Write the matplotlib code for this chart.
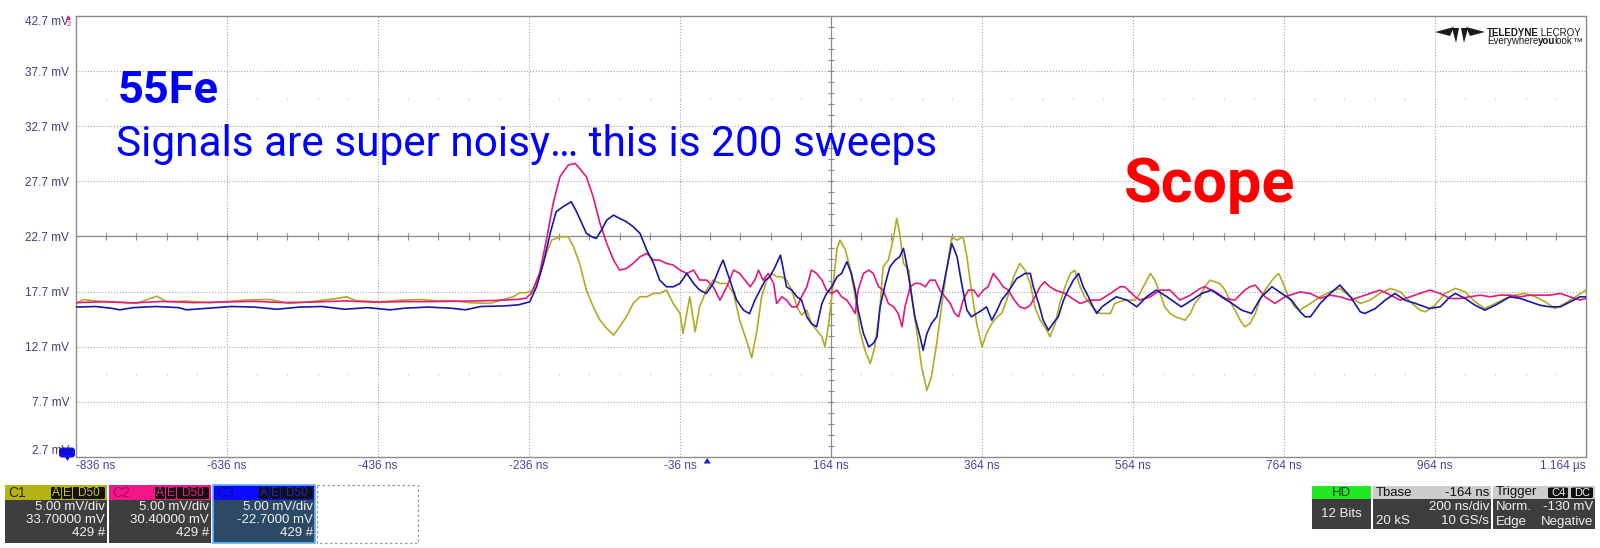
import numpy as np
import matplotlib
matplotlib.use("Agg")
import matplotlib.pyplot as plt
from matplotlib.patches import Rectangle, FancyBboxPatch, Polygon
from matplotlib.collections import LineCollection

# ---------------------------------------------------------------------------
# Averaged 55Fe pulses (200 sweeps), time in ns, amplitude in mV
# ---------------------------------------------------------------------------
t_c1 = [-836, -826, -809, -787, -756, -729, -716, -690, -659, -637,
        -614, -579, -553, -526, -491, -478, -464, -433, -403, -380,
        -358, -336, -314, -288, -270, -257, -248, -240, -230, -222,
        -213, -206, -200, -193, -184, -177, -169, -160, -151, -142,
        -133, -124, -116, -107, -98, -89, -80, -71, -63, -54,
        -45, -36, -32, -23, -16, -10, -1, 8, 17, 26,
        35, 43, 52, 59, 66, 72, 79, 85, 92, 99,
        105, 112, 119, 125, 132, 138, 145, 152, 156, 161,
        167, 172, 176, 183, 189, 196, 202, 209, 216, 222,
        229, 233, 240, 247, 251, 255, 260, 267, 271, 278,
        284, 291, 297, 304, 311, 317, 324, 331, 339, 344,
        350, 357, 364, 370, 377, 384, 390, 397, 406, 414,
        421, 428, 434, 441, 450, 454, 461, 467, 474, 481,
        487, 494, 500, 507, 514, 520, 534, 540, 553, 567,
        573, 580, 587, 593, 600, 606, 613, 620, 633, 640,
        646, 653, 659, 666, 679, 686, 692, 699, 706, 712,
        719, 726, 732, 739, 745, 752, 757, 763, 770, 778,
        785, 799, 812, 825, 838, 852, 865, 878, 891, 905,
        918, 931, 944, 951, 964, 977, 991, 1004, 1017, 1030,
        1044, 1057, 1070, 1083, 1097, 1110, 1123, 1136, 1150, 1164]
v_c1 = [16.63, 16.99, 16.84, 16.78, 16.63, 17.29, 16.78, 16.84, 16.69, 16.78,
        16.93, 16.99, 16.63, 16.78, 17.08, 17.23, 16.87, 16.78, 16.93, 16.99,
        16.87, 16.87, 16.69, 16.63, 16.99, 17.23, 17.60, 17.60, 17.84, 19.35,
        21.17, 22.38, 22.53, 22.68, 22.68, 21.77, 20.26, 17.84, 16.33, 15.12,
        14.36, 13.75, 14.51, 15.42, 16.63, 17.23, 17.23, 17.54, 17.54, 17.84,
        16.63, 15.72, 13.91, 17.23, 14.06, 16.33, 17.84, 18.75, 18.44, 18.44,
        17.54, 15.12, 13.30, 11.70, 14.21, 17.23, 18.74, 19.35, 19.05, 19.05,
        18.74, 17.84, 16.32, 15.57, 16.02, 14.81, 14.21, 13.60, 12.69, 14.81,
        18.44, 21.62, 22.37, 21.47, 19.95, 17.23, 14.21, 12.39, 11.18, 12.69,
        16.32, 19.95, 20.56, 22.68, 24.34, 22.98, 20.26, 19.65, 17.23, 13.90,
        10.88, 8.76, 9.97, 13.00, 16.63, 19.65, 22.68, 22.37, 22.68, 20.86,
        17.84, 14.81, 12.69, 13.90, 14.81, 15.42, 15.72, 17.00, 19.05, 20.26,
        19.65, 18.44, 16.32, 15.11, 14.20, 13.60, 14.81, 16.63, 18.14, 19.35,
        19.65, 18.14, 17.23, 16.63, 16.02, 15.72, 15.72, 16.63, 16.93, 16.93,
        17.53, 18.44, 19.35, 18.74, 17.53, 16.32, 15.72, 15.42, 15.11, 15.72,
        16.63, 17.23, 18.14, 18.74, 18.44, 17.84, 16.93, 16.02, 15.11, 14.51,
        14.81, 15.72, 16.93, 17.84, 18.44, 19.05, 19.35, 18.44, 17.23, 16.32,
        16.02, 16.63, 17.23, 17.68, 17.99, 17.23, 16.63, 16.93, 17.53, 17.99,
        17.68, 16.78, 16.02, 15.87, 16.47, 17.53, 17.99, 17.68, 16.78, 16.17,
        16.63, 17.08, 17.38, 17.53, 17.23, 16.78, 16.17, 16.63, 17.23, 17.84]

t_c2 = [-836, -800, -760, -720, -680, -640, -600, -560, -520, -480,
        -440, -400, -360, -320, -280, -250, -240, -233, -222, -213,
        -204, -195, -184, -175, -169, -160, -151, -142, -133, -124,
        -116, -107, -98, -89, -80, -71, -63, -54, -45, -36,
        -27, -18, -10, -1, 8, 17, 26, 35, 43, 50,
        57, 63, 68, 74, 81, 88, 92, 99, 105, 112,
        119, 125, 132, 138, 145, 152, 158, 165, 172, 178,
        185, 191, 196, 200, 207, 214, 220, 227, 233, 240,
        247, 253, 258, 262, 269, 275, 282, 289, 295, 302,
        308, 315, 322, 328, 333, 339, 346, 353, 359, 366,
        372, 379, 386, 392, 399, 406, 414, 421, 428, 434,
        441, 447, 454, 461, 474, 487, 494, 507, 520, 534,
        547, 553, 567, 573, 587, 600, 613, 626, 640, 653,
        659, 673, 686, 699, 712, 719, 726, 739, 752, 765,
        779, 785, 799, 812, 825, 838, 852, 865, 878, 891,
        905, 918, 931, 944, 957, 971, 984, 997, 1010, 1024,
        1037, 1050, 1063, 1077, 1090, 1103, 1116, 1130, 1143, 1156,
        1164]
v_c2 = [16.70, 16.78, 16.68, 16.82, 16.70, 16.76, 16.82, 16.70, 16.76, 16.86,
        16.74, 16.80, 16.80, 16.84, 16.90, 17.00, 17.10, 17.54, 19.35, 22.38,
        25.70, 28.12, 29.18, 29.33, 28.88, 28.12, 26.31, 23.89, 22.07, 20.56,
        19.65, 19.80, 20.26, 20.86, 21.17, 20.56, 20.56, 20.26, 20.11, 19.65,
        19.35, 19.65, 18.75, 18.75, 18.14, 16.93, 18.14, 19.65, 19.35, 18.74,
        18.14, 18.74, 19.65, 18.74, 19.35, 18.44, 16.63, 17.23, 16.93, 16.32,
        16.32, 17.23, 18.14, 19.65, 19.35, 18.74, 17.84, 17.53, 17.84, 17.23,
        16.93, 16.32, 15.72, 17.84, 19.35, 19.65, 19.35, 18.14, 17.84, 16.63,
        16.32, 15.72, 14.51, 16.32, 18.14, 18.44, 18.44, 18.14, 18.74, 18.74,
        17.84, 17.23, 16.63, 15.72, 15.42, 16.93, 17.84, 17.84, 17.23, 17.84,
        18.14, 19.35, 18.74, 18.14, 17.84, 17.00, 16.32, 16.17, 16.47, 17.23,
        18.14, 18.59, 18.14, 17.84, 17.53, 16.93, 16.63, 16.93, 16.93, 17.53,
        18.14, 18.14, 17.23, 16.93, 17.23, 17.84, 17.84, 16.93, 17.38, 17.99,
        18.14, 17.68, 17.08, 16.93, 17.84, 18.14, 18.29, 17.23, 16.63, 17.23,
        17.53, 17.68, 17.53, 17.08, 17.38, 17.23, 16.93, 17.23, 17.53, 17.84,
        17.38, 16.93, 17.23, 17.53, 17.84, 17.53, 17.08, 17.08, 17.23, 17.38,
        17.23, 17.38, 17.38, 17.23, 17.38, 17.38, 17.38, 17.53, 17.23, 16.93,
        17.08]

t_c3 = [-836, -810, -790, -778, -760, -730, -700, -690, -660, -630,
        -600, -570, -540, -510, -480, -450, -420, -400, -370, -340,
        -320, -300, -270, -250, -235, -226, -217, -208, -200, -191,
        -180, -173, -166, -160, -153, -147, -140, -133, -124, -116,
        -107, -98, -89, -80, -71, -63, -54, -45, -36, -27,
        -18, -10, -1, 8, 17, 21, 30, 39, 48, 56,
        63, 70, 77, 83, 90, 97, 101, 105, 112, 119,
        125, 132, 138, 145, 152, 158, 165, 172, 178, 185,
        191, 196, 200, 207, 214, 220, 225, 229, 236, 242,
        249, 255, 260, 264, 269, 275, 282, 286, 291, 297,
        304, 311, 317, 324, 331, 337, 344, 350, 357, 364,
        370, 377, 384, 390, 397, 403, 410, 414, 421, 428,
        432, 439, 445, 452, 458, 465, 472, 478, 485, 492,
        498, 505, 511, 516, 523, 529, 542, 556, 569, 582,
        595, 609, 628, 642, 655, 668, 681, 695, 708, 721,
        734, 748, 761, 774, 785, 792, 799, 812, 825, 838,
        852, 865, 871, 885, 898, 911, 924, 938, 957, 971,
        984, 991, 1004, 1017, 1030, 1044, 1063, 1077, 1090, 1103,
        1116, 1130, 1143, 1156, 1164]
v_c3 = [16.30, 16.35, 16.20, 16.05, 16.25, 16.35, 16.25, 16.05, 16.20, 16.35,
        16.30, 16.10, 16.30, 16.35, 16.10, 16.25, 16.05, 16.20, 16.30, 16.20,
        16.05, 16.35, 16.40, 16.50, 16.78, 18.14, 20.26, 22.98, 24.95, 25.40,
        25.85, 24.95, 23.89, 22.98, 22.68, 22.53, 23.28, 24.19, 24.64, 24.34,
        24.04, 23.59, 22.98, 21.47, 20.26, 18.75, 18.14, 18.14, 18.44, 19.35,
        18.44, 17.84, 17.54, 18.44, 19.96, 20.56, 18.75, 16.93, 16.02, 15.70,
        16.90, 17.84, 18.74, 19.05, 19.95, 21.01, 19.65, 18.14, 17.84, 17.23,
        16.93, 15.42, 14.81, 14.51, 16.63, 17.53, 18.14, 19.05, 19.35, 20.41,
        19.35, 17.84, 16.02, 13.90, 12.69, 13.00, 13.60, 16.32, 18.44, 19.95,
        20.56, 20.86, 21.62, 20.26, 18.14, 15.42, 13.60, 12.39, 13.90, 14.81,
        15.42, 17.53, 19.65, 22.07, 20.86, 18.44, 16.02, 15.42, 15.72, 16.02,
        16.32, 15.11, 16.02, 16.93, 17.53, 18.14, 18.90, 19.05, 19.35, 19.35,
        18.14, 16.63, 15.11, 14.20, 14.81, 15.42, 16.93, 17.84, 18.74, 19.35,
        18.14, 17.23, 16.32, 15.72, 16.32, 16.63, 17.23, 16.93, 16.32, 17.23,
        17.84, 17.23, 16.32, 16.93, 17.53, 17.84, 17.23, 16.63, 16.02, 15.72,
        17.23, 18.14, 17.53, 16.93, 15.90, 15.42, 15.42, 16.63, 17.53, 18.29,
        17.23, 15.87, 15.72, 16.17, 16.93, 17.53, 16.93, 16.63, 16.17, 16.32,
        17.23, 17.53, 17.08, 16.47, 16.02, 16.47, 17.23, 17.08, 16.78, 16.47,
        16.32, 16.32, 16.78, 17.23, 17.23]

# Display settings: 200 ns/div, 5 mV/div, 10 x 8 divisions
x_ticks = [-836, -636, -436, -236, -36, 164, 364, 564, 764, 964, 1164]
x_labels = ["-836 ns", "-636 ns", "-436 ns", "-236 ns", "-36 ns", "164 ns",
            "364 ns", "564 ns", "764 ns", "964 ns", "1.164 \u00b5s"]
y_ticks = [42.7, 37.7, 32.7, 27.7, 22.7, 17.7, 12.7, 7.7, 2.7]
y_labels = ["42.7 mV", "37.7 mV", "32.7 mV", "27.7 mV", "22.7 mV", "17.7 mV",
            "12.7 mV", "7.7 mV", "2.7 mV"]
trigger_time = 0.0

# Channel descriptor boxes
channels = [
    ("C1", "5.00 mV/div", "33.70000 mV", "429 #"),
    ("C2", "5.00 mV/div", "30.40000 mV", "429 #"),
    ("C3", "5.00 mV/div", "-22.7000 mV", "429 #"),
]

UI_FONT = "Liberation Sans"
W, H = 1600, 548
fig = plt.figure(figsize=(W / 100, H / 100), dpi=100)
fig.patch.set_facecolor("white")

# Graticule geometry in pixels
L, R, T, B = 76, 1586, 16, 457
ax = fig.add_axes([L / W, 1 - B / H, (R - L) / W, (B - T) / H])
ax.set_xlim(x_ticks[0], x_ticks[-1])
ax.set_ylim(y_ticks[-1], y_ticks[0])
ax.set_facecolor("white")

x_center = x_ticks[5]
y_center = y_ticks[4]

# dotted grid, solid crosshair
for xv in x_ticks[1:-1]:
    if xv == x_center:
        ax.axvline(xv, color="#8a8a8a", lw=0.9, zorder=1)
    else:
        ax.axvline(xv, color="#a6a6a6", lw=0.8, ls=(0, (1, 1.6)), zorder=1)
for yv in y_ticks[1:-1]:
    if yv == y_center:
        ax.axhline(yv, color="#8a8a8a", lw=0.9, zorder=1)
    else:
        ax.axhline(yv, color="#a6a6a6", lw=0.8, ls=(0, (1, 1.6)), zorder=1)

# minor ticks on the crosshair
segs = []
for xv in np.arange(x_ticks[0] + 40, x_ticks[-1], 40):
    segs.append([(xv, y_center - 0.28), (xv, y_center + 0.28)])
for yv in np.arange(y_ticks[-1] + 1, y_ticks[0], 1.0):
    segs.append([(x_center - 4.5, yv), (x_center + 4.5, yv)])
ax.add_collection(LineCollection(segs, colors="#8a8a8a", linewidths=0.8, zorder=1))

# faint dot rows at +/- 2.5 div
for yv in (y_center + 12.5, y_center - 12.5):
    xs = np.arange(x_ticks[0] + 40, x_ticks[-1], 40)
    ax.scatter(xs, np.full_like(xs, yv, dtype=float), s=1.2, color="#c4c4c4",
               linewidths=0, zorder=1)

# traces
ax.plot(t_c1, v_c1, color="#b2aa22", lw=1.2, zorder=3)
ax.plot(t_c2, v_c2, color="#e2197f", lw=1.2, zorder=4)
ax.plot(t_c3, v_c3, color="#1818a6", lw=1.2, zorder=5)

for s in ax.spines.values():
    s.set_color("#8c8c8c")
    s.set_linewidth(1.0)

ax.set_xticks(x_ticks, x_labels)
ax.set_yticks(y_ticks, y_labels)
ax.tick_params(axis="x", length=0, pad=2.5, labelsize=8.5, labelcolor="#4444a4")
ax.tick_params(axis="y", length=0, pad=5, labelsize=8.5, labelcolor="#3c3c80")
for lab in ax.get_xticklabels() + ax.get_yticklabels():
    lab.set_fontfamily(UI_FONT)
xl = ax.get_xticklabels()
xl[0].set_ha("left")
xl[-1].set_ha("right")
yl = ax.get_yticklabels()
yl[0].set_va("top")
yl[-1].set_va("bottom")

# ---------------------------------------------------------------------------
# Overlay in pixel coordinates for annotations and the status bar
# ---------------------------------------------------------------------------
ui = fig.add_axes([0, 0, 1, 1], zorder=10)
ui.set_xlim(0, W)
ui.set_ylim(H, 0)
ui.axis("off")

ui.text(118, 103, "55Fe", fontfamily="Roboto", fontweight="bold", fontsize=32.5,
        color="#0000ff", va="baseline")
ui.text(116, 156, "Signals are super noisy\u2026 this is 200 sweeps",
        fontfamily="Roboto", fontsize=30.5, color="#0000ff", va="baseline")
ui.text(1124, 202, "Scope", fontfamily="Roboto", fontweight="bold", fontsize=44,
        color="#ff0000", va="baseline")

# brand mark
for pts in ([(1435, 32), (1454, 27), (1450, 36)],
            [(1452, 28), (1459, 28), (1456, 43)],
            [(1461, 28), (1468, 28), (1464, 43)],
            [(1466, 27), (1485, 32), (1470, 36)]):
    ui.add_patch(Polygon(pts, closed=True, fc="#1a1a1a", ec="none"))

fig.canvas.draw()
renderer = fig.canvas.get_renderer()
inv = ui.transData.inverted()


def run_text(x, y, parts, size):
    """Draw consecutive text segments (text, weight) starting at x."""
    for txt, weight in parts:
        t = ui.text(x, y, txt, fontfamily=UI_FONT, fontweight=weight,
                    fontsize=size, color="#1a1a1a", va="baseline")
        bb = t.get_window_extent(renderer)
        x = inv.transform((bb.x1, bb.y0))[0] - 0.5


run_text(1487, 35.5, [("TELEDYNE", "bold"), (" LECROY", "normal")], 7.0)
run_text(1487, 44.5, [("Everywhere", "normal"), ("you", "bold"), ("look", "normal"),
                      ("\u2122", "normal")], 7.0)

# channel offset markers and trigger position
ui.add_patch(Polygon([(66, 20), (68.5, 15), (71, 20)], closed=True, fc="#e2197f", ec="none"))
ui.text(69, 25, "2", fontfamily=UI_FONT, fontsize=5.5, color="#e2197f", ha="center", va="center")
ui.add_patch(FancyBboxPatch((59, 447.5), 16, 10, boxstyle="round,pad=0,rounding_size=3",
                            fc="#1010e8", ec="none"))
ui.text(67, 452.5, "C3", fontfamily=UI_FONT, fontsize=6, color="#0808a0", ha="center", va="center")
ui.add_patch(Polygon([(65, 457), (70, 457), (67.5, 461)], closed=True, fc="#1010e8", ec="none"))
trig_x = L + (trigger_time - x_ticks[0]) / (x_ticks[-1] - x_ticks[0]) * (R - L)
ui.add_patch(Polygon([(trig_x - 3.5, 463.5), (trig_x + 3.5, 463.5), (trig_x, 458)],
                     closed=True, fc="#1a1ad0", ec="none"))

# ---------------------------------------------------------------------------
# Channel descriptor boxes
# ---------------------------------------------------------------------------
box_style = [
    # x0, header, name colour, badge text, body, border
    (5, "#b5b213", "#2a2a00", "#cfc62a", "#3e3e3e", None),
    (109, "#f2168a", "#a80d5a", "#e8207f", "#3e3e3e", None),
    (213, "#0a0aff", "#0a0a8c", "#2020d8", "#2c4a66", "#63b4ff"),
]
for (name, l1, l2, l3), (x0, hc, nc, bc, body, border) in zip(channels, box_style):
    ui.add_patch(Rectangle((x0, 485), 102, 15, fc=hc, ec="none"))
    ui.add_patch(Rectangle((x0, 500), 102, 43, fc=body, ec="none"))
    if border:
        ui.add_patch(Rectangle((x0, 485), 102, 58, fc="none", ec=border, lw=1.2))
    ui.text(x0 + 3, 493, name, fontfamily=UI_FONT, fontsize=10, color=nc, va="center")
    for bx0, bx1, lab in ((x0 + 46, x0 + 56, "A"), (x0 + 57, x0 + 67, "E"),
                          (x0 + 68, x0 + 100, "D50")):
        ui.add_patch(FancyBboxPatch((bx0, 487), bx1 - bx0, 12,
                                    boxstyle="round,pad=0,rounding_size=1.5",
                                    fc="#111111", ec="none"))
        ui.text((bx0 + bx1) / 2, 493.5, lab, fontfamily=UI_FONT, fontsize=8.5,
                color=bc, ha="center", va="center")
    for yy, txt in ((507, l1), (520, l2), (533, l3)):
        ui.text(x0 + 100, yy, txt, fontfamily=UI_FONT, fontsize=9.5, color="#f0f0f0",
                ha="right", va="center")

ui.add_patch(Rectangle((317, 485), 101, 58, fc="none", ec="#9a9a9a", lw=0.9,
                       ls=(0, (2, 2))))

# timebase / trigger status
ui.add_patch(Rectangle((1312, 486), 59, 13, fc="#22e822", ec="none"))
ui.add_patch(Rectangle((1312, 499), 59, 30, fc="#3e3e3e", ec="none"))
ui.text(1341.5, 492.5, "HD", fontfamily=UI_FONT, fontsize=9.5, color="#1a3a1a",
        ha="center", va="center")
ui.text(1341.5, 514, "12 Bits", fontfamily=UI_FONT, fontsize=9.5, color="#f0f0f0",
        ha="center", va="center")

ui.add_patch(Rectangle((1373, 486), 118, 13, fc="#cccccc", ec="none"))
ui.add_patch(Rectangle((1373, 499), 118, 30, fc="#3e3e3e", ec="none"))
ui.text(1376, 492.5, "Tbase", fontfamily=UI_FONT, fontsize=9.5, color="#111111", va="center")
ui.text(1489, 492.5, "-164 ns", fontfamily=UI_FONT, fontsize=9.5, color="#111111",
        ha="right", va="center")
ui.text(1489, 506.5, "200 ns/div", fontfamily=UI_FONT, fontsize=9.5, color="#f0f0f0",
        ha="right", va="center")
ui.text(1376, 521.5, "20 kS", fontfamily=UI_FONT, fontsize=9.5, color="#f0f0f0", va="center")
ui.text(1489, 521.5, "10 GS/s", fontfamily=UI_FONT, fontsize=9.5, color="#f0f0f0",
        ha="right", va="center")

ui.add_patch(Rectangle((1493, 486), 102, 13, fc="#cccccc", ec="none"))
ui.add_patch(Rectangle((1493, 499), 102, 30, fc="#3e3e3e", ec="none"))
ui.text(1496, 492.5, "Trigger", fontfamily=UI_FONT, fontsize=9.5, color="#111111", va="center")
for bx0, bx1, lab in ((1548, 1568, "C4"), (1571, 1593, "DC")):
    ui.add_patch(FancyBboxPatch((bx0, 487.5), bx1 - bx0, 10.5,
                                boxstyle="round,pad=0,rounding_size=1.5",
                                fc="#111111", ec="none"))
    ui.text((bx0 + bx1) / 2, 493, lab, fontfamily=UI_FONT, fontsize=8,
            color="#f0f0f0", ha="center", va="center")
ui.text(1496, 506.5, "Norm.", fontfamily=UI_FONT, fontsize=9.5, color="#f0f0f0", va="center")
ui.text(1593, 506.5, "-130 mV", fontfamily=UI_FONT, fontsize=9.5, color="#f0f0f0",
        ha="right", va="center")
ui.text(1496, 521.5, "Edge", fontfamily=UI_FONT, fontsize=9.5, color="#f0f0f0", va="center")
ui.text(1593, 521.5, "Negative", fontfamily=UI_FONT, fontsize=9.5, color="#f0f0f0",
        ha="right", va="center")

fig.savefig("out.png", dpi=100, facecolor="white")
